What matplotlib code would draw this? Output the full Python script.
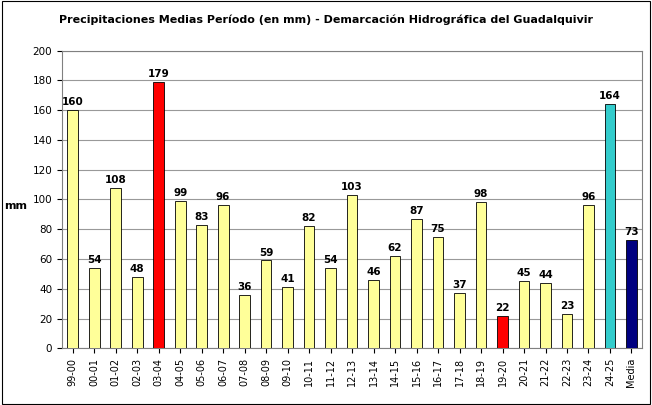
import matplotlib
matplotlib.use("Agg")
import matplotlib.pyplot as plt

categories = ["99-00", "00-01", "01-02", "02-03", "03-04", "04-05", "05-06", "06-07", "07-08",
              "08-09", "09-10", "10-11", "11-12", "12-13", "13-14", "14-15", "15-16", "16-17",
              "17-18", "18-19", "19-20", "20-21", "21-22", "22-23", "23-24", "24-25", "Media"]
values = [160, 54, 108, 48, 179, 99, 83, 96, 36, 59, 41, 82, 54, 103, 46, 62, 87, 75, 37, 98,
          22, 45, 44, 23, 96, 164, 73]

colors = []
for c in categories:
    if c in ("03-04", "19-20"):
        colors.append("#FF0000")
    elif c == "24-25":
        colors.append("#33CCCC")
    elif c == "Media":
        colors.append("#000080")
    else:
        colors.append("#FFFF99")

fig = plt.figure(figsize=(6.52, 4.05), dpi=100)
ax = fig.add_axes([0.095, 0.14, 0.89, 0.735])
x = range(len(categories))
ax.bar(x, values, width=0.5, color=colors, edgecolor="black", linewidth=0.6, zorder=3)
for i, v in zip(x, values):
    ax.text(i, v + 2, str(v), ha="center", va="bottom", fontsize=7.5, fontweight="bold")

ax.set_ylim(0, 200)
ax.set_yticks(range(0, 201, 20))
ax.set_xlim(-0.5, len(categories) - 0.5)
ax.set_xticks(list(x))
ax.set_xticklabels(categories, rotation=90, fontsize=7)
ax.tick_params(axis="y", labelsize=7.5)
ax.yaxis.grid(True, color="#999999", linewidth=0.8, zorder=0)
ax.set_ylabel("mm", fontsize=8, fontweight="bold", rotation=0)
ax.yaxis.set_label_coords(-0.08, 0.46)
for s in ax.spines.values():
    s.set_color("#808080")
fig.suptitle("Precipitaciones Medias Período (en mm) - Demarcación Hidrográfica del Guadalquivir",
             fontsize=8, fontweight="bold", y=0.965)
fig.patches.append(plt.Rectangle((0.003, 0.003), 0.994, 0.994, transform=fig.transFigure,
                                 fill=False, edgecolor="black", linewidth=0.8))
fig.savefig("out.png", dpi=100)
